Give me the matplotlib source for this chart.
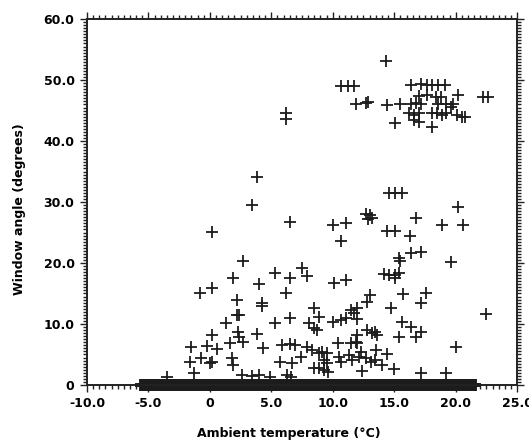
import numpy as np
import matplotlib
matplotlib.use('Agg')
import matplotlib.pyplot as plt
from matplotlib.ticker import MultipleLocator, FuncFormatter

# --- Datos ---
# Ventana abierta: temperatura ambiente (°C) y ángulo (grados)
temp_open = [
    14.3, 10.7, 11.2, 11.7, 11.9, 12.7, 12.9, 14.4, 15.5, 16.4, 16.8, 17.2,
    15.1, 18.1, 16.4, 17.2, 17.7, 18.1, 18.6, 19.1, 17.0, 17.7, 18.4, 18.8,
    20.2, 22.2, 22.6, 18.6, 19.2, 19.6, 19.8, 16.2, 16.6, 17.0, 18.1, 18.5,
    18.9, 19.2, 20.1, 20.5, 20.8, 16.6, 17.0, 6.2, 6.2,
    3.8, 3.4, 0.2, 6.5, 14.6, 15.1, 15.6, 20.2, 10.0, 11.1, 10.7, 12.7,
    13.0, 13.2, 12.9, 16.8, 18.9, 20.6, 14.4, 15.1, 16.3, 15.4, 15.5, 16.4,
    17.2, 19.6, 7.5, 7.9, 6.5, 5.3, 10.1, 11.1, 14.2, 14.6, 15.1, 15.4,
    15.1, 2.7, 1.9, 4.0, 0.2, -0.8, 6.2, 2.2, 4.2, 4.2, 2.2, 2.4,
    1.3, 5.3, 6.5, 0.2, 2.3, 2.4, 2.7, 3.8, -1.5, -0.2, 0.6, 1.6,
    4.3, 5.9, 6.5, 6.9, -1.6, -0.7, 0.0, 0.2, -1.3, -3.5, 8.5, 8.9,
    8.1, 8.5, 8.7, 10.0, 10.7, 11.1, 11.5, 11.7, 7.9, 8.3, 10.4, 11.5,
    11.9, 1.8, 1.9, 5.7, 6.7, 7.4, 9.1, 9.3, 9.5, 10.5, 10.7, 11.6,
    8.5, 8.9, 9.3, 9.6, 2.6, 3.4, 4.0, 4.9, 6.3, 6.6, 13.0, 12.8,
    15.7, 17.6, 17.2, 14.7, 22.5, 12.0, 12.0, 15.6, 16.4, 17.2, 15.4, 16.8,
    12.8, 13.4, 13.6, 20.0, 12.0, 12.0, 13.5, 14.4, 12.3, 12.1, 13.1, 14.0,
    15.0, 12.4, 17.2, 19.2, 11.3, 12.7, 13.4, 8.9, 9.5, 13.2,
]
angle_open = [
    53.2, 49.0, 49.0, 49.0, 46.1, 46.3, 46.4, 45.9, 46.0, 46.1, 46.2, 46.0,
    43.0, 42.3, 49.2, 49.4, 49.2, 49.2, 49.2, 49.2, 47.4, 47.5, 47.3, 47.2,
    47.5, 47.3, 47.3, 46.0, 46.0, 45.6, 46.0, 44.6, 44.3, 44.6, 44.6, 44.6,
    44.3, 44.6, 44.3, 44.0, 44.0, 43.4, 43.2, 44.6, 43.6,
    34.1, 29.5, 25.1, 26.7, 31.5, 31.5, 31.5, 29.2, 26.2, 26.6, 23.6, 28.0,
    27.8, 27.4, 27.2, 27.4, 26.2, 26.2, 25.2, 25.2, 24.4, 20.8, 20.4, 21.6,
    21.8, 20.2, 19.2, 17.9, 17.5, 18.4, 16.7, 17.2, 18.2, 18.0, 18.0, 18.4,
    17.5, 20.3, 17.5, 16.6, 15.9, 15.1, 15.1, 13.9, 13.4, 13.0, 11.5, 11.5,
    10.2, 10.2, 11.0, 8.2, 8.7, 7.9, 7.0, 8.4, 6.2, 6.4, 5.9, 6.9,
    6.1, 6.6, 6.7, 6.6, 3.8, 4.4, 3.6, 3.8, 2.0, 1.3, 12.6, 11.1,
    10.2, 9.3, 9.0, 10.3, 10.7, 11.0, 12.3, 11.8, 6.2, 5.7, 6.9, 6.9,
    7.0, 4.4, 3.3, 3.8, 3.6, 4.6, 5.4, 4.1, 3.6, 4.6, 3.8, 4.1,
    2.8, 2.8, 2.5, 2.1, 1.6, 1.5, 1.6, 1.3, 1.6, 1.3, 14.8, 13.6,
    14.9, 15.1, 13.4, 12.6, 11.6, 12.6, 10.8, 10.3, 9.5, 8.7, 7.9, 7.9,
    9.0, 8.7, 8.2, 6.2, 8.2, 6.9, 5.7, 5.1, 5.4, 4.6, 3.8, 3.3,
    2.6, 2.3, 2.0, 2.0, 4.9, 4.4, 4.1, 5.2, 5.2, 8.5,
]

# Ventana cerrada (ángulo 0): temperaturas registradas
temp_closed = [
    -5.6, -5.4, -5.2, -5.0, -4.8, -4.6, -4.4, -4.2, -4.0, -3.8,
    -3.6, -3.4, -3.2, -3.0, -2.8, -2.6, -2.4, -2.2, -2.0, -1.8,
    -1.6, -1.4, -1.2, -1.0, -0.8, -0.6, -0.4, -0.2, 0.0, 0.2,
    0.4, 0.6, 0.8, 1.0, 1.2, 1.4, 1.6, 1.8, 2.0, 2.2,
    2.4, 2.6, 2.8, 3.0, 3.2, 3.4, 3.6, 3.8, 4.0, 4.2,
    4.4, 4.6, 4.8, 5.0, 5.2, 5.4, 5.6, 5.8, 6.0, 6.2,
    6.4, 6.6, 6.8, 7.0, 7.2, 7.4, 7.6, 7.8, 8.0, 8.2,
    8.4, 8.6, 8.8, 9.0, 9.2, 9.4, 9.6, 9.8, 10.0, 10.2,
    10.4, 10.6, 10.8, 11.0, 11.2, 11.4, 11.6, 11.8, 12.0, 12.2,
    12.4, 12.6, 12.8, 13.0, 13.2, 13.4, 13.6, 13.8, 14.0, 14.2,
    14.4, 14.6, 14.8, 15.0, 15.2, 15.4, 15.6, 15.8, 16.0, 16.2,
    16.4, 16.6, 16.8, 17.0, 17.2, 17.4, 17.6, 17.8, 18.0, 18.2,
    18.4, 18.6, 18.8, 19.0, 19.2, 19.4, 19.6, 19.8, 20.0, 20.2,
    20.4, 20.6, 20.8, 21.0, 21.2, 21.4, 21.6,
]
angle_closed = [0.0] * len(temp_closed)

# --- Figura ---
fig = plt.figure(figsize=(5.29, 4.44), dpi=100)
ax = fig.add_axes([0.1645, 0.133, 0.813, 0.824])

mk = dict(marker='+', linestyle='none', color='#1c1c1c', markersize=8)
# los ceros se solapan hasta formar una banda negra
ax.plot(temp_closed, angle_closed, clip_on=False, markeredgewidth=2.8, **mk)
ax.plot(temp_open, angle_open, clip_on=False, markeredgewidth=1.3, **mk)

ax.set_xlim(-10, 25)
ax.set_ylim(0, 60)

ax.xaxis.set_major_locator(MultipleLocator(5))
ax.xaxis.set_minor_locator(MultipleLocator(0.5))
ax.yaxis.set_major_locator(MultipleLocator(10))
ax.yaxis.set_minor_locator(MultipleLocator(0.5))

fmt = FuncFormatter(lambda v, p: '0' if abs(v) < 1e-9 else f'{v:.1f}')
ax.xaxis.set_major_formatter(fmt)
ax.yaxis.set_major_formatter(fmt)

ax.tick_params(which='both', direction='out', top=True, right=True, width=1.0, color='#222222')
ax.tick_params(which='major', length=5, labelsize=9, pad=4)
ax.tick_params(which='minor', length=3)
for lab in ax.get_xticklabels() + ax.get_yticklabels():
    lab.set_fontweight('bold')

for s in ax.spines.values():
    s.set_linewidth(1.4)
    s.set_color('#222222')

ax.set_xlabel('Ambient temperature (°C)', fontsize=9, fontweight='bold')
ax.set_ylabel('Window angle (degrees)', fontsize=9, fontweight='bold')
ax.xaxis.set_label_coords(0.47, -0.116)
ax.yaxis.set_label_coords(-0.142, 0.48)

plt.savefig('out.png', dpi=100)
